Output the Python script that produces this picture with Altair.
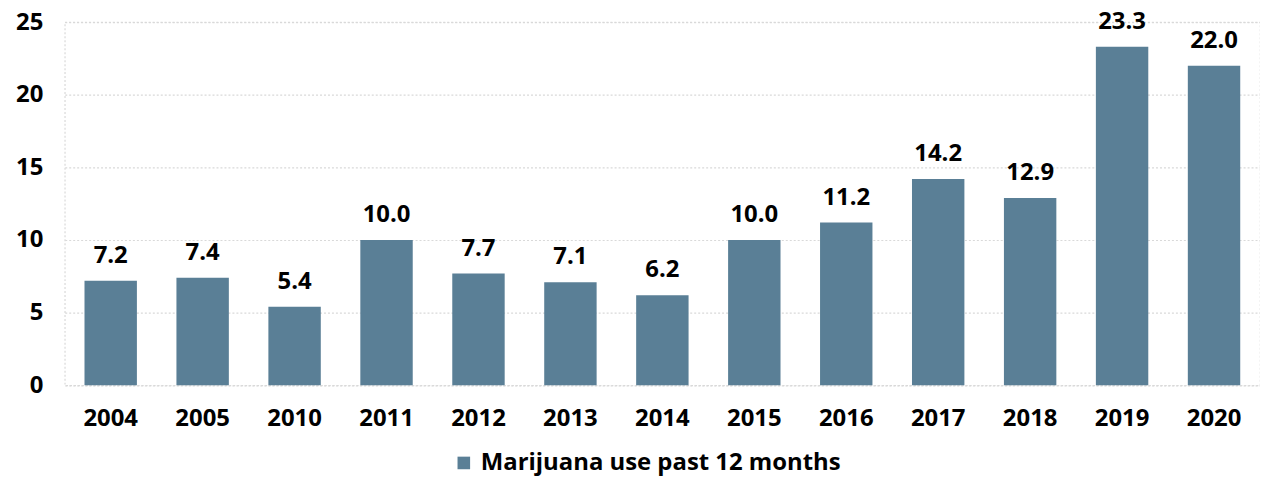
import altair as alt
import pandas as pd

years = ["2004", "2005", "2010", "2011", "2012", "2013", "2014", "2015", "2016", "2017", "2018", "2019", "2020"]
values = [7.2, 7.4, 5.4, 10.0, 7.7, 7.1, 6.2, 10.0, 11.2, 14.2, 12.9, 23.3, 22.0]
series = "Marijuana use past 12 months"

df = pd.DataFrame({"year": years, "value": values, "series": [series] * len(years)})

FONT = "Open Sans"
FS = 24
grid = "#d9d9d9"

base = alt.Chart(df).encode(
    x=alt.X("year:N", sort=years, title=None,
            scale=alt.Scale(paddingInner=0.43, paddingOuter=0.215),
            axis=alt.Axis(labelAngle=0, ticks=False, domain=False, labelPadding=21,
                          labelFontSize=FS, labelFontWeight="bold", labelColor="#000000",
                          labelFont=FONT)),
)

bars = base.mark_bar().encode(
    y=alt.Y("value:Q", title=None, scale=alt.Scale(domain=[0, 25], nice=False),
            axis=alt.Axis(values=[0, 5, 10, 15, 20, 25], ticks=False, domain=False,
                          labelPadding=22, labelFontSize=FS, labelFontWeight="bold",
                          labelColor="#000000", labelFont=FONT,
                          gridColor=grid, gridDash=[2, 2], gridWidth=1.2)),
    color=alt.Color("series:N", title=None,
                    scale=alt.Scale(range=["#5a7f96"]),
                    legend=alt.Legend(orient="none", legendX=389, legendY=431,
                                      symbolType="square", symbolSize=160,
                                      labelFontSize=FS, labelFontWeight="bold",
                                      labelColor="#000000", labelFont=FONT,
                                      symbolStrokeWidth=0, labelLimit=500,
                                      labelOffset=5, padding=0)),
)

labels = base.mark_text(baseline="alphabetic", dy=-18, fontSize=FS, fontWeight="bold",
                        font=FONT, color="#000000").encode(
    y=alt.Y("value:Q"),
    text=alt.Text("value:Q", format=".1f"),
)

chart = (bars + labels).properties(
    width=1201, height=365,
    autosize=alt.AutoSizeParams(type="none"),
    padding={"left": 57, "top": 13, "right": 0, "bottom": 92},
).configure_view(stroke=grid, strokeDash=[2, 2], strokeWidth=1.2)

chart.save("out.html", embed_options={"renderer": "svg", "actions": False})
